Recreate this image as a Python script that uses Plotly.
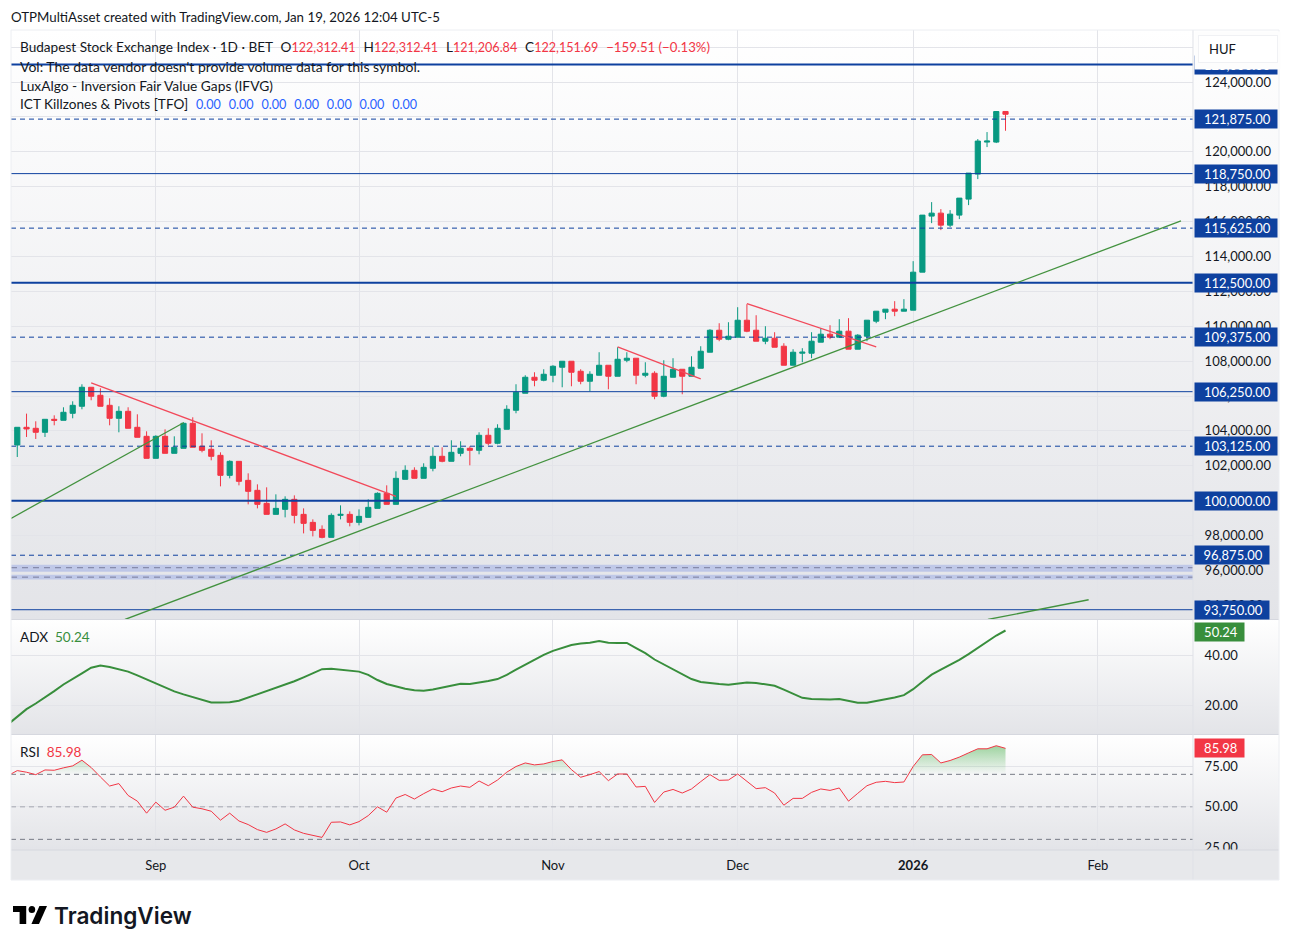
import base64
import plotly.graph_objects as go

W, H = 1291, 949
FONT = "Lato"

bars = list(range(108))
opens = [103194, 104207, 104150, 103921, 104666, 104609, 105010, 105412, 106502, 106043, 105469, 104724,
         105125, 104207, 103691, 102429, 103691, 102716, 103003, 104437, 103118, 102946, 102601, 101454,
         102257, 101167, 100594, 99848, 99217, 99504, 100078, 99217, 98758, 98357, 97898, 99160,
         99217, 98758, 99045, 99561, 100422, 99791, 101225, 101742, 101283, 101857, 102545, 102258,
         102717, 103004, 102889, 103750, 103291, 104094, 105184, 106159, 107077, 106905, 107191, 107650,
         107995, 107421, 106847, 107191, 107765, 107134, 108052, 108167, 107191, 107306, 105987, 107077,
         107535, 107134, 107593, 108511, 109773, 109256, 109371, 110346, 109773, 109142, 109314, 108855,
         107765, 108455, 108455, 109086, 109545, 109373, 109717, 108685, 109430, 110291, 110807, 110979,
         110864, 110922, 113101, 116314, 116485, 115797, 116371, 117289, 118723, 120558, 120558, 122312.41]
highs = [104207, 104991, 104552, 104666, 104896, 105355, 105699, 106674, 106502, 106445, 105871, 105412,
         105355, 104953, 103978, 103749, 104093, 103691, 104494, 104781, 103863, 103462, 102773, 102315,
         102257, 101569, 100938, 100766, 100364, 100250, 100307, 99561, 98930, 98586, 99275, 99733,
         99389, 99504, 100078, 100479, 100881, 101684, 102028, 101914, 102144, 103061, 103061, 103463,
         103406, 103119, 103922, 104151, 104381, 105471, 106675, 107191, 107363, 107535, 107765, 107995,
         107995, 107535, 107421, 108511, 107765, 108797, 108511, 108167, 107937, 107421, 108052, 108167,
         107535, 108281, 108855, 109830, 110174, 110231, 111092, 111264, 110633, 110002, 109658, 109027,
         108683, 108742, 109660, 109889, 110061, 110406, 110463, 109545, 110348, 110864, 110979, 111438,
         111553, 113732, 116371, 117117, 116715, 116658, 117346, 118780, 120730, 121132, 122336, 122312.41]
lows = [102506, 103653, 103538, 103653, 104322, 104609, 104724, 105240, 105756, 105412, 104322, 103921,
        104150, 103634, 102429, 102429, 102716, 102716, 103003, 103060, 102773, 102315, 100823, 101282,
        100881, 99791, 99561, 99217, 99217, 99045, 98701, 98127, 97955, 97841, 97898, 98930,
        98529, 98586, 99045, 99561, 99791, 99791, 101225, 101283, 101283, 101685, 102201, 102258,
        102545, 102029, 102660, 103176, 103234, 104094, 105012, 106159, 106560, 106847, 106790, 106503,
        106560, 106675, 106274, 107191, 106388, 107134, 107937, 106675, 107077, 105815, 105929, 107077,
        106102, 107134, 107593, 108511, 109142, 109199, 109371, 109658, 109142, 108970, 108797, 107765,
        107765, 107939, 108169, 109086, 109258, 109373, 108685, 108685, 109143, 110176, 110406, 110578,
        110864, 110922, 113101, 115912, 115511, 115683, 116142, 116945, 118436, 120271, 120501, 121206.84]
closes = [104207, 104112, 103921, 104666, 104609, 105068, 105469, 106502, 105986, 105412, 104724, 105125,
          104150, 103634, 102429, 103691, 102716, 103060, 104437, 103060, 102888, 102544, 101454, 102257,
          101110, 100536, 99791, 99217, 99561, 100078, 99160, 98701, 98299, 97898, 99160, 99217,
          98758, 99103, 99619, 100422, 99791, 101282, 101741, 101283, 101914, 102545, 102258, 102775,
          103004, 102889, 103750, 103291, 104151, 105241, 106216, 107077, 106905, 107249, 107708, 107995,
          107363, 106847, 107249, 107765, 107134, 108109, 108167, 107191, 107306, 105987, 107134, 107535,
          107134, 107650, 108568, 109773, 109256, 109428, 110346, 109715, 109142, 109314, 108797, 107765,
          108511, 108513, 109143, 109545, 109373, 109717, 108685, 109488, 110348, 110864, 110979, 110864,
          110979, 113101, 116371, 116485, 115797, 116428, 117346, 118780, 120616, 120616, 122311, 122151.69]

line_bars = list(range(-1, 108))
adx = [12.3, 15.3, 18.4, 20.7, 23.1, 25.7, 28.4, 30.8, 32.9, 35.2, 36.1, 35.5, 34.7, 33.6, 32.1, 30.5, 29.0, 27.4,
       25.6, 24.4, 23.4, 22.3, 21.1, 21.1, 21.2, 21.8, 23.1, 24.4, 25.7, 27.0, 28.2, 29.7, 31.3, 32.9, 34.6, 34.8,
       34.3, 33.9, 33.6, 32.3, 30.2, 28.6, 27.5, 26.7, 26.1, 25.9, 26.4, 27.1, 27.9, 28.7, 28.6, 29.1, 29.8, 30.6,
       32.3, 34.4, 36.5, 38.6, 40.4, 42.0, 43.1, 44.4, 45.0, 45.3, 46.0, 45.3, 45.2, 45.2, 43.1, 41.1, 38.5, 36.6,
       34.7, 32.7, 30.6, 29.4, 28.9, 28.6, 28.3, 28.9, 29.2, 29.0, 28.6, 27.9, 26.3, 24.5, 23.0, 22.5, 22.3, 22.3,
       22.5, 21.6, 21.0, 21.0, 21.6, 22.3, 23.1, 24.1, 26.5, 29.5, 32.4, 34.4, 36.3, 38.4, 40.7, 43.3, 45.8, 48.2, 50.24]
rsi = [69.2, 72.3, 71.3, 69.8, 72.7, 72.5, 74.0, 75.2, 78.7, 74.2, 68.4, 62.8, 64.3, 57.0, 53.5, 46.1, 52.9, 47.9,
       49.8, 56.6, 49.8, 48.8, 47.3, 41.8, 46.1, 41.3, 39.1, 36.0, 34.3, 36.4, 39.5, 35.8, 33.7, 32.3, 31.2, 40.5,
       40.7, 38.9, 40.9, 44.6, 50.0, 46.7, 55.4, 57.6, 54.8, 58.1, 61.0, 59.3, 61.6, 62.8, 62.0, 65.9, 63.0, 66.5,
       71.3, 74.8, 77.0, 75.8, 76.4, 77.9, 78.9, 72.9, 68.2, 69.8, 71.7, 66.1, 70.2, 70.2, 62.2, 62.6, 52.7, 59.1,
       60.7, 58.5, 61.0, 65.5, 69.8, 66.3, 66.5, 70.2, 65.7, 61.2, 61.8, 58.5, 51.0, 55.2, 55.2, 58.9, 61.0, 60.1,
       61.6, 53.5, 58.3, 63.0, 65.1, 65.7, 64.9, 65.3, 74.8, 82.0, 82.2, 77.0, 78.5, 80.6, 83.2, 85.7, 85.7, 87.6, 85.98]

month_ticks = [15, 37, 58, 78, 97, 117]
month_labels = ["Sep", "Oct", "Nov", "Dec", "<b>2026</b>", "Feb"]

price_ticks = list(range(94000, 128000, 2000))
levels = [125000, 121875, 118750, 115625, 112500, 109375, 106250, 103125, 100000, 96875, 93750]
level_dash = ["solid", "dash", "solid", "dash", "solid", "dash", "solid", "dash", "solid", "dash", "solid"]
level_width = [2, 1, 1, 1, 2, 1, 1, 1, 2, 1, 1]

gap_bands = [(95929, 96330), (95487, 95757)]
gap_mids = [96158, 95619]

red_lines = [([8, 41], [106749, 100249]), ([65, 74], [108814, 106978]), ([79, 93], [111304, 108814])]
green_lines = [([-0.68, 18], [98987, 104466]), ([11.66, 126], [93192, 116043]), ([105.1, 116], [93192, 94322])]

GREEN, RED, BLUE = "#089981", "#f23645", "#0e419f"
ADX_GREEN = "#388e3c"
GRID = "#e3e4e9"
INK = "#131722"
X_RANGE = [-0.68, 127.3]


def px(x):
    return x / W


def py(y):
    return 1 - y / H


def gradient(top, bottom):
    svg = ('<svg xmlns="http://www.w3.org/2000/svg" width="10" height="100" preserveAspectRatio="none">'
           '<defs><linearGradient id="g" x1="0" y1="0" x2="0" y2="1">'
           f'<stop offset="0" stop-color="{top}"/><stop offset="1" stop-color="{bottom}"/>'
           '</linearGradient></defs><rect width="10" height="100" fill="url(#g)"/></svg>')
    return "data:image/svg+xml;base64," + base64.b64encode(svg.encode()).decode()


LOGO = ('<svg xmlns="http://www.w3.org/2000/svg" viewBox="0 0 36 18" preserveAspectRatio="none">'
        '<path d="M14 0H0v6h7v12h7z" fill="#000"/><circle cx="20" cy="3.5" r="3.5" fill="#000"/>'
        '<path d="M28 0h8l-8.5 18h-8z" fill="#000"/></svg>')

fig = go.Figure()

fig.add_trace(go.Candlestick(
    x=bars, open=opens, high=highs, low=lows, close=closes, whiskerwidth=0,
    increasing=dict(line=dict(color=GREEN, width=1), fillcolor=GREEN),
    decreasing=dict(line=dict(color=RED, width=1), fillcolor=RED),
    xaxis="x", yaxis="y", showlegend=False))

for (lo, hi), mid in zip(gap_bands, gap_mids):
    fig.add_trace(go.Scatter(x=X_RANGE, y=[lo, lo], mode="lines", line=dict(width=0), xaxis="x", yaxis="y", showlegend=False))
    fig.add_trace(go.Scatter(x=X_RANGE, y=[hi, hi], mode="lines", line=dict(width=0), fill="tonexty",
                             fillcolor="rgba(41,82,227,0.2)", xaxis="x", yaxis="y", showlegend=False))
    fig.add_trace(go.Scatter(x=X_RANGE, y=[mid, mid], mode="lines", line=dict(color="#787b9c", width=1, dash="6px 5px"),
                             xaxis="x", yaxis="y", showlegend=False))

for lvl, dash, lw in zip(levels, level_dash, level_width):
    fig.add_trace(go.Scatter(x=X_RANGE, y=[lvl, lvl], mode="lines",
                             line=dict(color=BLUE, width=lw, dash="5px 4px" if dash == "dash" else "solid"),
                             xaxis="x", yaxis="y", showlegend=False))

for xs, ys in red_lines:
    fig.add_trace(go.Scatter(x=xs, y=ys, mode="lines", line=dict(color="#f2495a", width=1.3), xaxis="x", yaxis="y", showlegend=False))
for xs, ys in green_lines:
    fig.add_trace(go.Scatter(x=xs, y=ys, mode="lines", line=dict(color="#43923f", width=1.3), xaxis="x", yaxis="y", showlegend=False))

fig.add_trace(go.Scatter(x=line_bars, y=adx, mode="lines", line=dict(color=ADX_GREEN, width=2),
                         xaxis="x2", yaxis="y2", showlegend=False))

fig.add_trace(go.Scatter(x=line_bars, y=[70] * len(rsi), mode="lines", line=dict(width=0),
                         xaxis="x3", yaxis="y3", showlegend=False))
fig.add_trace(go.Scatter(x=line_bars, y=[max(v, 70) for v in rsi], mode="lines", line=dict(width=0), fill="tonexty",
                         fillgradient=dict(type="vertical", start=70, stop=88,
                                           colorscale=[[0, "rgba(76,175,80,0)"], [1, "rgba(76,175,80,0.55)"]]),
                         xaxis="x3", yaxis="y3", showlegend=False))
for band, col in [(70, "#787b86"), (50, "#a5a8b0"), (30, "#787b86")]:
    fig.add_trace(go.Scatter(x=X_RANGE, y=[band, band], mode="lines", line=dict(color=col, width=1, dash="5px 4px"),
                             xaxis="x3", yaxis="y3", showlegend=False))
fig.add_trace(go.Scatter(x=line_bars, y=rsi, mode="lines", line=dict(color=RED, width=1),
                         xaxis="x3", yaxis="y3", showlegend=False))

xcommon = dict(domain=[px(11), px(1193)], range=X_RANGE, tickmode="array", tickvals=month_ticks,
               showgrid=True, gridcolor=GRID, gridwidth=1, zeroline=False, showline=False)
ycommon = dict(side="right", showgrid=True, gridcolor=GRID, gridwidth=1, zeroline=False, showline=False,
               ticks="outside", ticklen=8, tickcolor="rgba(0,0,0,0)", tickformat=",.2f",
               tickfont=dict(family=FONT, size=13, color=INK))

fig.update_layout(
    width=W, height=H,
    margin=dict(l=0, r=0, t=0, b=0, autoexpand=False),
    paper_bgcolor="#ffffff", plot_bgcolor="rgba(0,0,0,0)",
    showlegend=False, hovermode=False, boxgap=0.2,
    font=dict(family=FONT, size=13, color=INK),
    xaxis=dict(**xcommon, anchor="y", showticklabels=False, rangeslider=dict(visible=False)),
    xaxis2=dict(**xcommon, anchor="y2", showticklabels=False),
    xaxis3=dict(**xcommon, anchor="y3", ticktext=month_labels, ticks="outside", ticklen=3, tickcolor="rgba(0,0,0,0)",
                tickfont=dict(family=FONT, size=13, color=INK)),
    yaxis=dict(**ycommon, anchor="x", domain=[py(619.5), py(30)], range=[93190, 126983], tickmode="array", tickvals=price_ticks),
    yaxis2=dict(**ycommon, anchor="x2", domain=[py(734.5), py(619.5)], range=[8.16, 54.69], tickmode="array", tickvals=[20, 40]),
    yaxis3=dict(**ycommon, anchor="x3", domain=[py(850), py(734.5)], range=[23.45, 94.5], tickmode="array", tickvals=[25, 50, 75]),
)

for top, bot, c1, c2 in [(30, 619.5, "#ffffff", "#e3e4e8"), (619.5, 734.5, "#ffffff", "#e3e4e8"),
                         (734.5, 850, "#ffffff", "#e3e4e8"), (850, 880, "#e7e8eb", "#e7e8eb")]:
    fig.add_layout_image(source=gradient(c1, c2), xref="paper", yref="paper", x=px(11), y=py(top),
                         sizex=px(1279 - 11), sizey=(bot - top) / H, xanchor="left", yanchor="top",
                         sizing="stretch", layer="below")
fig.add_layout_image(source="data:image/svg+xml;base64," + base64.b64encode(LOGO.encode()).decode(),
                     xref="paper", yref="paper", x=px(13), y=py(906), sizex=px(34), sizey=18 / H,
                     xanchor="left", yanchor="top", sizing="stretch", layer="above")

# clip the 25.00 label where the time axis starts, then the separators and frame
fig.add_shape(type="rect", xref="paper", yref="paper", x0=px(1193.5), x1=px(1279), y0=py(850), y1=py(865),
              fillcolor="#e7e8eb", line_width=0, layer="above")
for y in [619.5, 734.5, 850]:
    fig.add_shape(type="line", xref="paper", yref="paper", x0=px(11), x1=px(1279), y0=py(y), y1=py(y),
                  line=dict(color="#d6d8df", width=1), layer="above")
fig.add_shape(type="line", xref="paper", yref="paper", x0=px(1193), x1=px(1193), y0=py(30), y1=py(880),
              line=dict(color="#dfe1e7", width=1), layer="above")
fig.add_shape(type="rect", xref="paper", yref="paper", x0=px(11), x1=px(1279), y0=py(880), y1=py(30),
              line=dict(color="#eceef2", width=1), layer="above")


def r(s, size=12.6):
    return f'<span style="color:{RED};font-size:{size}px">{s}</span>'


def b(s):
    return f'<span style="color:#2962ff;font-size:12.6px">{s}</span>'


sp = "&nbsp;&nbsp;&#8202;"
legend_lines = [
    (47, 13.6, "Budapest Stock Exchange Index · 1D · BET" + sp + "O" + r("122,312.41") + sp + "H" + r("122,312.41") + sp + "L"
     + r("121,206.84") + sp + "C" + r("122,151.69") + sp + r("−159.51 (−0.13%)", 13.2)),
    (66, 14.0, "Vol: The data vendor doesn't provide volume data for this symbol."),
    (85, 13.75, "LuxAlgo - Inversion Fair Value Gaps (IFVG)"),
    (104, 13.6, "ICT Killzones &amp; Pivots [TFO]" + sp + sp.join([b("0.00")] * 7)),
    (637, 13.6, "ADX&nbsp;&nbsp;" + f'<span style="color:{ADX_GREEN}">50.24</span>'),
    (752, 13.6, "RSI&nbsp;&nbsp;" + r("85.98", 13.6)),
]
for y, size, txt in legend_lines:
    fig.add_annotation(xref="paper", yref="paper", x=px(18), y=py(y), xanchor="left", yanchor="middle", text=txt,
                       showarrow=False, font=dict(family=FONT, size=size, color=INK))

fig.add_annotation(xref="paper", yref="paper", x=px(9), y=py(17), xanchor="left", yanchor="middle",
                   text="OTPMultiAsset created with TradingView.com, Jan 19, 2026 12:04 UTC-5", showarrow=False,
                   font=dict(family=FONT, size=13.3, color=INK))
fig.add_annotation(xref="paper", yref="paper", x=px(52), y=py(915), xanchor="left", yanchor="middle",
                   text="TradingView", showarrow=False, font=dict(family="Inter", size=22.6, color="#131722", weight=600))

for lvl in levels:
    txt = f"{lvl:,.2f}&nbsp;&nbsp;"
    fig.add_annotation(xref="paper", yref="y", x=px(1193.5), y=lvl, xanchor="left", yanchor="middle", text=txt,
                       width=82 if lvl >= 100000 else 74, height=18, align="right", showarrow=False, bgcolor=BLUE,
                       borderpad=0, font=dict(family=FONT, size=13, color="#ffffff"))

for y, col, val in [(632, ADX_GREEN, "50.24"), (748, RED, "85.98")]:
    fig.add_annotation(xref="paper", yref="paper", x=px(1194), y=py(y), xanchor="left", yanchor="middle",
                       text=val + "&nbsp;&nbsp;", width=49, height=18, align="right", showarrow=False, bgcolor=col,
                       borderpad=0, font=dict(family=FONT, size=13, color="#ffffff"))

# white currency box sits on top of the clipped 125,000 label
fig.add_annotation(xref="paper", yref="paper", x=px(1193.5), y=py(30.5), xanchor="left", yanchor="top", text=" ",
                   width=85, height=37, showarrow=False, bgcolor="#fdfdfd", borderpad=0)
fig.add_annotation(xref="paper", yref="paper", x=px(1198), y=py(35), xanchor="left", yanchor="top",
                   text="&nbsp;&nbsp;&nbsp;HUF", width=78, height=26, align="left", showarrow=False, bgcolor="#ffffff",
                   bordercolor="#f0f1f4", borderwidth=1, borderpad=0, font=dict(family=FONT, size=13, color=INK))

fig.write_html("out.html", config={"displayModeBar": False},
               post_script="document.body.style.margin='0';document.body.style.overflow='hidden';")
